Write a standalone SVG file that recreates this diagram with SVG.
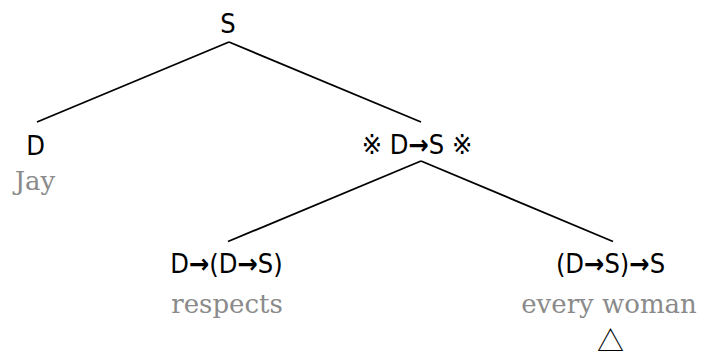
<svg xmlns="http://www.w3.org/2000/svg" width="705" height="354" viewBox="0 0 705 354">
  <style>
    .cat { font-family: "DejaVu Sans Condensed", "DejaVu Sans", "Liberation Sans", sans-serif; font-size: 27px; fill: #000; text-anchor: middle; font-stretch: condensed; }
    .arr { font-weight: bold; }
    .word { font-family: "DejaVu Serif", "Liberation Serif", serif; font-size: 26px; fill: #8a8a8a; text-anchor: middle; }
    .tri { font-family: "Noto Sans CJK JP", "DejaVu Sans", sans-serif; font-size: 27px; fill: #000; text-anchor: middle; }
    .edge { stroke: #000; stroke-width: 1.8; fill: none; stroke-linecap: butt; }
  </style>
  <rect width="705" height="354" fill="#fff"/>

  <!-- tree edges -->
  <g id="connectors">
    <line class="edge" x1="229" y1="42" x2="37" y2="122"/>
    <line class="edge" x1="229" y1="42" x2="421" y2="122"/>
    <line class="edge" x1="421" y1="161" x2="228" y2="241.5"/>
    <line class="edge" x1="421" y1="161" x2="613" y2="241.5"/>
  </g>

  <!-- root -->
  <g id="node-root">
    <text class="cat" x="228" y="33">S</text>
  </g>

  <!-- subject -->
  <g id="node-subject">
    <text class="cat" x="35.5" y="155">D</text>
    <text class="word" x="35" y="190">Jay</text>
  </g>

  <!-- predicate (shifted) -->
  <g id="node-predicate">
    <text class="cat" x="417" y="154">※ D<tspan class="arr">→</tspan>S ※</text>
  </g>

  <!-- verb -->
  <g id="node-verb">
    <text class="cat" x="226.5" y="273">D<tspan class="arr">→</tspan>(D<tspan class="arr">→</tspan>S)</text>
    <text class="word" x="227" y="313">respects</text>
  </g>

  <!-- quantified object -->
  <g id="node-object">
    <text class="cat" x="610.5" y="273">(D<tspan class="arr">→</tspan>S)<tspan class="arr">→</tspan>S</text>
    <text class="word" x="609" y="313">every woman</text>
    <text class="tri" x="610.5" y="351">△</text>
  </g>
</svg>
